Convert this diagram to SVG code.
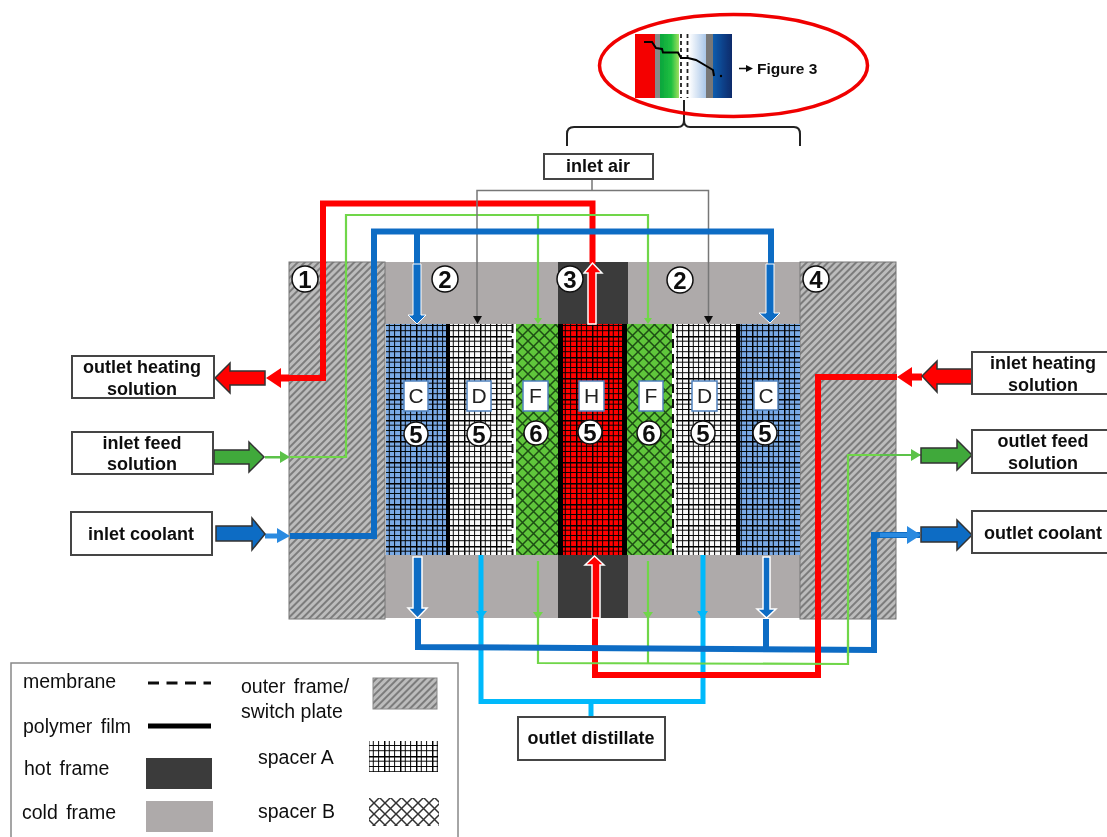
<svg xmlns="http://www.w3.org/2000/svg" width="1107" height="837" viewBox="0 0 1107 837">
<style>
text{font-family:"Liberation Sans",Arial,sans-serif;fill:#111}
.b{font-weight:bold;font-size:18px;text-anchor:middle}
.l{font-size:19.500px}
.box{fill:#fff;stroke:#444;stroke-width:2}
.tag{fill:#fff;stroke:#4f81bd;stroke-width:1.5}
.tagt{font-size:21px;text-anchor:middle;fill:#222}
.num{fill:#fff;stroke:#111;stroke-width:1.5}
.numt{font-size:24px;font-weight:bold;text-anchor:middle}
.line{fill:none;stroke-linejoin:miter}
.r{stroke:#ff0000;stroke-width:6}
.g{stroke:#6fd64a;stroke-width:2.200}
.c{stroke:#0f6cc4;stroke-width:6}
.d{stroke:#00b9fb;stroke-width:5}
.a{stroke:#777;stroke-width:1.5}
.big{stroke:#333;stroke-width:1.5}
</style>
<defs>
<pattern id="hatch" width="5" height="5" patternUnits="userSpaceOnUse" patternTransform="rotate(-45)">
<rect width="5" height="5" fill="#bcbcbc"/><rect width="5" height="2" fill="#7c7c7c"/>
</pattern>
<pattern id="gridA" width="16" height="21" patternUnits="userSpaceOnUse">
<path d="M5.300 0V21M10.600 0V21M0 5.200H16M0 10.500H16M0 15.700H16" stroke="#000" stroke-width="0.950" fill="none"/>
<path d="M0.700 0V21M0 0.800H16" stroke="#000" stroke-width="1.500" fill="none"/>
</pattern>
<pattern id="gridB" width="11" height="11" patternUnits="userSpaceOnUse">
<path d="M0 0L11 11M11 0L0 11" stroke="#1c4d12" stroke-width="1.500" fill="none"/>
<path d="M-1 10L1 12M10 -1L12 1M1 -1L-1 1M12 10L10 12" stroke="#1c4d12" stroke-width="1.500" fill="none"/>
</pattern>
<pattern id="gridBk" width="11" height="11" patternUnits="userSpaceOnUse">
<path d="M0 0L11 11M11 0L0 11" stroke="#333" stroke-width="1.500" fill="none"/>
<path d="M-1 10L1 12M10 -1L12 1M1 -1L-1 1M12 10L10 12" stroke="#333" stroke-width="1.500" fill="none"/>
</pattern>
<linearGradient id="gG"><stop offset="0" stop-color="#0aa53c"/><stop offset=".6" stop-color="#20c040"/><stop offset="1" stop-color="#9fe060"/></linearGradient>
<linearGradient id="gL"><stop offset="0" stop-color="#fff"/><stop offset="1" stop-color="#a9c6e8"/></linearGradient>
<linearGradient id="gB"><stop offset="0" stop-color="#0f5cad"/><stop offset="1" stop-color="#0a2a6a"/></linearGradient>
<filter id="soft" filterUnits="userSpaceOnUse" x="0" y="0" width="1107" height="837"><feGaussianBlur stdDeviation="0.550"/></filter>
</defs>
<rect width="1107" height="837" fill="#fff"/>
<g filter="url(#soft)">

<g id="frames">
<rect x="385" y="262" width="415" height="62" fill="#aeaaaa"/>
<rect x="385" y="555" width="415" height="63" fill="#aeaaaa"/>
<rect x="558" y="262" width="70" height="62" fill="#3b3b3b"/>
<rect x="558" y="555" width="70" height="63" fill="#3b3b3b"/>
<rect id="outer-frame-left" x="289" y="262" width="96" height="357" fill="url(#hatch)" stroke="#777"/>
<rect id="outer-frame-right" x="800" y="262" width="96" height="357" fill="url(#hatch)" stroke="#777"/>
</g>

<g id="stack">
<rect x="386" y="324" width="60" height="231" fill="#7aaae6"/><rect x="386" y="324" width="60" height="231" fill="url(#gridA)"/>
<rect x="446" y="324" width="4" height="231" fill="#000"/>
<rect x="450" y="324" width="62" height="231" fill="#fafafa"/><rect x="450" y="324" width="62" height="231" fill="url(#gridA)"/>
<rect x="512" y="324" width="4" height="231" fill="#fff"/>
<path d="M512.500 324V555" stroke="#111" stroke-width="2" stroke-dasharray="9 6"/>
<rect x="516" y="324" width="42" height="231" fill="#5fc63a"/><rect x="516" y="324" width="42" height="231" fill="url(#gridB)"/>
<rect x="558" y="324" width="5" height="231" fill="#000"/>
<rect x="563" y="324" width="59" height="231" fill="#ff0000"/><rect x="563" y="324" width="59" height="231" fill="url(#gridA)"/>
<rect x="622" y="324" width="5" height="231" fill="#000"/>
<rect x="627" y="324" width="45" height="231" fill="#5fc63a"/><rect x="627" y="324" width="45" height="231" fill="url(#gridB)"/>
<rect x="672" y="324" width="4" height="231" fill="#fff"/>
<path d="M673 324V555" stroke="#111" stroke-width="2" stroke-dasharray="9 6"/>
<rect x="676" y="324" width="60" height="231" fill="#fafafa"/><rect x="676" y="324" width="60" height="231" fill="url(#gridA)"/>
<rect x="736" y="324" width="4" height="231" fill="#000"/>
<rect x="740" y="324" width="60" height="231" fill="#7aaae6"/><rect x="740" y="324" width="60" height="231" fill="url(#gridA)"/>
</g>

<g id="connectors">
<path class="line d" d="M481 555V701.500H703V555M591 701.500V717"/>
<path class="line r" d="M592.500 264V203.500H323V378H281"/>
<path class="line r" d="M897 377H818V675H595V618"/>
<path class="line g" d="M290 457H346V215H648V318M538 215V318"/>
<path class="line g" d="M921 455H848V664L538 663V561M648 664V561"/>
<path class="line a" d="M592 179V190.500H477V316M592 190.500H708.500V316"/>
<path class="line c" d="M290 536H374V231.500H771V290M417 231.500V290"/>
<path class="line c" d="M920 535H874V650L418 647V619M766 649V619"/>
<path class="line r" d="M818 640V656"/>
<path class="line g" d="M848 640V656"/>

<path d="M588 324V273H584L592.500 263L602 273H596V324Z" fill="#ff0000" stroke="#fff" stroke-width="1.500"/>
<path d="M592 618V565H585L594.500 556L604 565H600V618Z" fill="#ff0000" stroke="#fff" stroke-width="1.500"/>
<path d="M413 264V315H408L417 324L426 315H421V264Z" fill="#0f6cc4" stroke="#fff" stroke-width="1"/>
<path d="M766 264V313H759L770 323L780 313H774V264Z" fill="#0f6cc4" stroke="#fff" stroke-width="1"/>
<path d="M413 557V608H408L417.500 618L427 608H422V557Z" fill="#0f6cc4" stroke="#fff" stroke-width="1.500"/>
<path d="M763 557V609H757L766.500 618L776 609H770V557Z" fill="#0f6cc4" stroke="#fff" stroke-width="1.500"/>
<path d="M473 316H482L477.500 324Z" fill="#111"/>
<path d="M704 316H713L708.500 324Z" fill="#111"/>
<path d="M534 318H542L538 324Z" fill="#6fd64a"/>
<path d="M644 318H652L648 324Z" fill="#6fd64a"/>
<path d="M533 612H543L538 619Z" fill="#6fd64a"/>
<path d="M643 612H653L648 619Z" fill="#6fd64a"/>
<path d="M476 611H487L481 619Z" fill="#00b9fb"/>
<path d="M697 611H708L702.500 619Z" fill="#00b9fb"/>

<path d="M266 378L281 368V374.500H289V381.500H281V388Z" fill="#ff0000"/>
<path d="M265 456H280V451L290 457L280 463V458.500H265Z" fill="#5bc24a"/>
<path d="M265 533.500H277V528L290 536L277 543V538.500H265Z" fill="#2b8ae0"/>
<path d="M897 377L912 367V373.500H922V380.500H912V387Z" fill="#ff0000"/>
<path d="M880 454H911V449L921 455L911 461V456H880Z" fill="#5bc24a"/>
<path d="M880 533H907V526L921 535L907 544V537H880Z" fill="#2b8ae0"/>

<path class="big" d="M215 378L230 363V371H265V385H230V393Z" fill="#ff0000"/>
<path class="big" d="M264 457L249 442V450H214V464H249V472Z" fill="#3fa93a"/>
<path class="big" d="M265 534L252 518V526H216V541H252V550Z" fill="#0f6cc4"/>
<path class="big" d="M922 376L937 361V369H972V384H937V392Z" fill="#ff0000"/>
<path class="big" d="M972 455L957 440V448H921V463H957V470Z" fill="#3fa93a"/>
<path class="big" d="M972 535L957 520V527H921V542H957V550Z" fill="#0f6cc4"/>
</g>

<g id="bracket">
<path class="line" stroke="#222" stroke-width="2" d="M567 146V134Q567 127 574 127H678Q684 127 684 120V100M684 120Q684 127 690 127H794Q800 127 800 134V146"/>
</g>

<g id="figure3">
<rect x="635" y="34" width="20" height="64" fill="#f40000"/>
<rect x="655" y="34" width="5" height="64" fill="#888"/>
<rect x="660" y="34" width="19" height="64" fill="url(#gG)"/>
<rect x="679" y="34" width="10" height="64" fill="#fff"/>
<path d="M681 34V98M687.500 34V98" stroke="#222" stroke-width="1.800" stroke-dasharray="4 3"/>
<rect x="689" y="34" width="17" height="64" fill="url(#gL)"/>
<rect x="706" y="34" width="7" height="64" fill="#777"/>
<rect x="713" y="34" width="19" height="64" fill="url(#gB)"/>
<path d="M644 42H652L656 48L662 49L663 52.500H678L681 58H688L696 60L708 67L713 70L714 76" fill="none" stroke="#000" stroke-width="2"/>
<circle cx="721" cy="76" r="1.200" fill="#000"/>
<ellipse cx="733.500" cy="65.500" rx="134" ry="51" fill="none" stroke="#f00000" stroke-width="3.500"/>
<path d="M739 68.500H748" stroke="#111" stroke-width="1.500"/><path d="M746 65L753 68.500L746 72Z" fill="#111"/>
<text x="757" y="74" style="font-size:15.500px;font-weight:bold">Figure 3</text>
</g>

<g id="inlet-air"><rect class="box" x="544" y="154" width="109" height="25"/><text class="b" x="598" y="172">inlet air</text></g>
<g id="outlet-heating"><rect class="box" x="72" y="356" width="142" height="42"/><text class="b" x="142" y="373">outlet heating</text><text class="b" x="142" y="395">solution</text></g>
<g id="inlet-feed"><rect class="box" x="72" y="432" width="141" height="42"/><text class="b" x="142" y="449">inlet feed</text><text class="b" x="142" y="470">solution</text></g>
<g id="inlet-coolant"><rect class="box" x="71" y="512" width="141" height="43"/><text class="b" x="141" y="540">inlet coolant</text></g>
<g id="inlet-heating"><rect class="box" x="972" y="352" width="140" height="42"/><text class="b" x="1043" y="369">inlet heating</text><text class="b" x="1043" y="391">solution</text></g>
<g id="outlet-feed"><rect class="box" x="972" y="430" width="140" height="43"/><text class="b" x="1043" y="447">outlet feed</text><text class="b" x="1043" y="469">solution</text></g>
<g id="outlet-coolant"><rect class="box" x="972" y="511" width="140" height="42"/><text class="b" x="1043" y="539">outlet coolant</text></g>
<g id="outlet-distillate"><rect class="box" x="518" y="717" width="147" height="43"/><text class="b" x="591" y="744">outlet distillate</text></g>

<g id="circle-1"><circle class="num" cx="305" cy="279" r="13"/><text class="numt" x="305" y="288">1</text></g>
<g id="circle-2a"><circle class="num" cx="445" cy="279" r="13"/><text class="numt" x="445" y="288">2</text></g>
<g id="circle-3"><circle class="num" cx="570" cy="279" r="13"/><text class="numt" x="570" y="288">3</text></g>
<g id="circle-2b"><circle class="num" cx="680" cy="280" r="13"/><text class="numt" x="680" y="289">2</text></g>
<g id="circle-4"><circle class="num" cx="816" cy="279" r="13"/><text class="numt" x="816" y="288">4</text></g>

<g id="channel-c1"><rect class="tag" x="404" y="381" width="24" height="30"/><text class="tagt" x="416" y="403">C</text><circle class="num" cx="416" cy="434" r="12"/><text class="numt" x="416" y="442.500">5</text></g>
<g id="channel-d1"><rect class="tag" x="467" y="381" width="24" height="30"/><text class="tagt" x="479" y="403">D</text><circle class="num" cx="479" cy="434" r="12"/><text class="numt" x="479" y="442.500">5</text></g>
<g id="channel-f1"><rect class="tag" x="523" y="381" width="25" height="30"/><text class="tagt" x="535.500" y="403">F</text><circle class="num" cx="536" cy="433" r="12"/><text class="numt" x="536" y="441.500">6</text></g>
<g id="channel-h"><rect class="tag" x="579" y="381" width="25" height="30"/><text class="tagt" x="591.500" y="403">H</text><circle class="num" cx="590" cy="432" r="12"/><text class="numt" x="590" y="440.500">5</text></g>
<g id="channel-f2"><rect class="tag" x="639" y="381" width="24" height="30"/><text class="tagt" x="651" y="403">F</text><circle class="num" cx="649" cy="433" r="12"/><text class="numt" x="649" y="441.500">6</text></g>
<g id="channel-d2"><rect class="tag" x="692" y="381" width="25" height="30"/><text class="tagt" x="704.500" y="403">D</text><circle class="num" cx="703" cy="433" r="12"/><text class="numt" x="703" y="441.500">5</text></g>
<g id="channel-c2"><rect class="tag" x="754" y="381" width="24" height="29"/><text class="tagt" x="766" y="403">C</text><circle class="num" cx="765" cy="433" r="12"/><text class="numt" x="765" y="441.500">5</text></g>

<g id="legend">
<rect x="11" y="663" width="447" height="190" fill="#fff" stroke="#888" stroke-width="1.500"/>
<text class="l" x="23" y="688">membrane</text>
<path d="M148 683H211" stroke="#111" stroke-width="3" stroke-dasharray="11 7.500"/>
<text class="l" x="23" y="733" word-spacing="3">polymer film</text>
<path d="M148 726H211" stroke="#000" stroke-width="5"/>
<text class="l" x="24" y="775" word-spacing="3">hot frame</text>
<rect x="146" y="758" width="66" height="31" fill="#3b3b3b"/>
<text class="l" x="22" y="819" word-spacing="3">cold frame</text>
<rect x="146" y="801" width="67" height="31" fill="#aeaaaa"/>
<text class="l" x="241" y="693" word-spacing="3">outer frame/</text>
<text class="l" x="241" y="718">switch plate</text>
<rect x="373" y="678" width="64" height="31" fill="url(#hatch)" stroke="#888"/>
<text class="l" x="258" y="764">spacer A</text>
<rect x="369" y="741" width="69" height="31" fill="url(#gridA)"/>
<text class="l" x="258" y="818">spacer B</text>
<rect x="369" y="798" width="70" height="28" fill="url(#gridBk)"/>
</g>
</g>
</svg>
